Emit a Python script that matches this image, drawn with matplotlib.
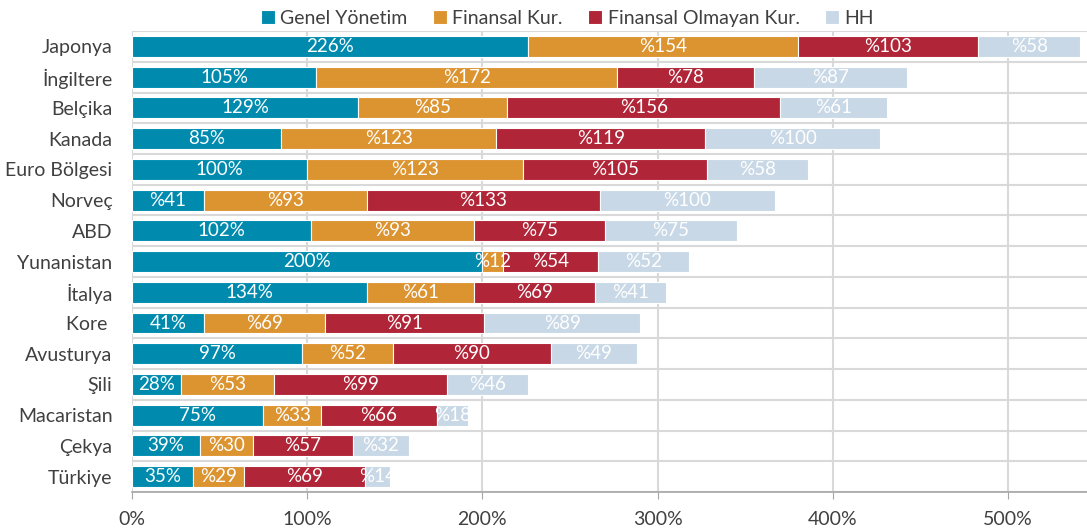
import matplotlib.pyplot as plt
import numpy as np

plt.rcParams["font.family"] = ["Lato", "DejaVu Sans"]

countries = ["Japonya", "İngiltere", "Belçika", "Kanada", "Euro Bölgesi", "Norveç",
             "ABD", "Yunanistan", "İtalya", "Kore ", "Avusturya", "Şili",
             "Macaristan", "Çekya", "Türkiye"]
genel = [226, 105, 129, 85, 100, 41, 102, 200, 134, 41, 97, 28, 75, 39, 35]
finansal = [154, 172, 85, 123, 123, 93, 93, 12, 61, 69, 52, 53, 33, 30, 29]
fin_olmayan = [103, 78, 156, 119, 105, 133, 75, 54, 69, 91, 90, 99, 66, 57, 69]
hh = [58, 87, 61, 100, 58, 100, 75, 52, 41, 89, 49, 46, 18, 32, 14]
series_names = ["Genel Yönetim", "Finansal Kur.", "Finansal Olmayan Kur.", "HH"]
colors = ["#008BAE", "#DC9431", "#B02537", "#C9D8E6"]

fig = plt.figure(figsize=(10.87, 5.31), dpi=100)
ax = fig.add_axes([0.1214, 0.0734, 0.8786, 0.868])

y = np.arange(len(countries))
left = np.zeros(len(countries))
for k, (name, vals, col) in enumerate(zip(series_names, [genel, finansal, fin_olmayan, hh], colors)):
    vals = np.array(vals)
    ax.barh(y, vals, left=left, height=0.68, color=col, edgecolor="white",
            linewidth=0.8, label=name, zorder=3)
    for i, v in enumerate(vals):
        if k == 0 and countries[i] != "Norveç":
            txt = f"{v}%"
        else:
            txt = f"%{v}"
        ax.text(left[i] + v / 2, i, txt, ha="center", va="center",
                color="white", fontsize=13.5, zorder=4)
    left += vals

ax.set_xlim(0, 545)
ax.set_ylim(len(countries) - 0.5, -0.5)
ax.set_yticks(y)
ax.set_yticklabels(countries, fontsize=14, color="#404040")
ax.tick_params(axis="y", length=0, pad=14)
ax.set_xticks(np.arange(0, 501, 100))
ax.set_xticklabels([f"{v}%" for v in range(0, 501, 100)], fontsize=14, color="#404040")
ax.tick_params(axis="x", length=5, color="#a6a6a6", pad=9)

ax.set_yticks(np.arange(-0.5, len(countries), 1), minor=True)
ax.tick_params(axis="y", which="minor", length=0)
ax.grid(which="minor", axis="y", color="#d9d9d9", linewidth=1.5, zorder=0)
ax.grid(which="major", axis="x", color="#d9d9d9", linewidth=1.5, zorder=0)

for s in ["top", "right", "left"]:
    ax.spines[s].set_visible(False)
ax.spines["bottom"].set_color("#a6a6a6")
ax.spines["bottom"].set_linewidth(1.2)

fig.legend(loc="upper center", bbox_to_anchor=(0.522, 1.015), ncol=4, frameon=False,
           fontsize=14, handlelength=0.7, handleheight=0.7, handletextpad=0.3,
           columnspacing=1.3, labelcolor="#404040")

fig.savefig("out.png", dpi=100)
